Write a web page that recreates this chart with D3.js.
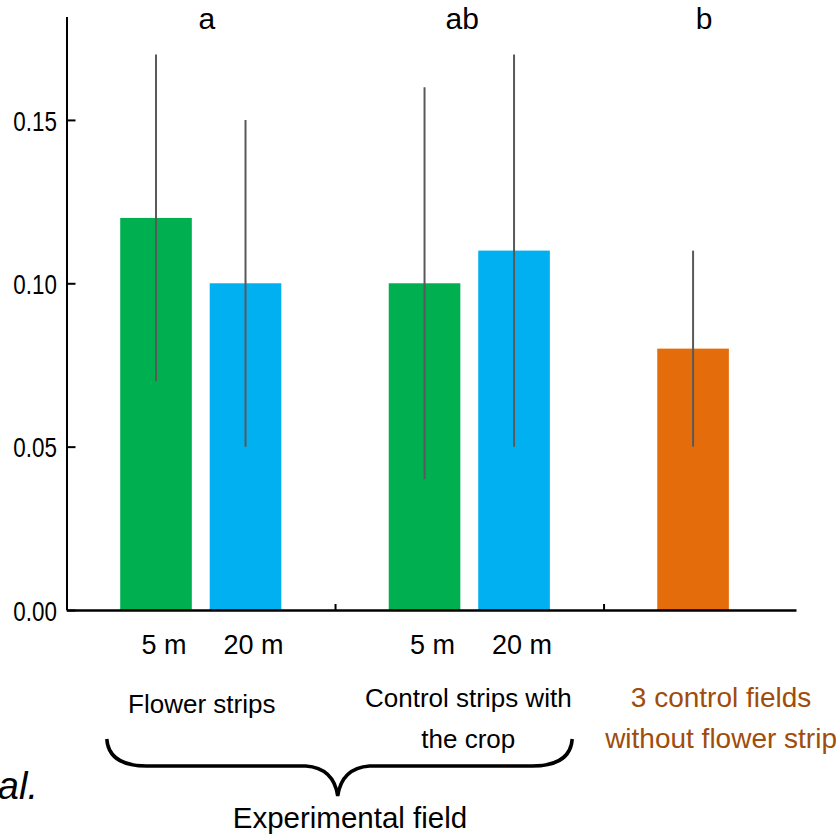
<!DOCTYPE html>
<html>
<head>
<meta charset="utf-8">
<script src="https://cdn.jsdelivr.net/npm/d3@7"></script>
<style>
  body { margin: 0; background: #fff; }
  text { font-family: "Liberation Sans", Arial, sans-serif; }
</style>
</head>
<body>
<svg id="viz" width="836" height="837"></svg>
<script>
  // groups along the x axis
  let groupNames = [["Flower strips"], ["Control strips with", "the crop"], ["3 control fields", "without flower strip"]];
  let groupLetters = ["a", "ab", "b"];

  // one entry per bar
  let barGroup = [0, 0, 1, 1, 2];
  let barSub = [0, 1, 0, 1, 0];
  let barLabels = ["5 m", "20 m", "5 m", "20 m", ""];
  let means = [0.12, 0.10, 0.10, 0.11, 0.08];
  let upper = [0.17, 0.15, 0.16, 0.17, 0.11];
  let lower = [0.07, 0.05, 0.04, 0.05, 0.05];

  let yTicks = [0, 0.05, 0.10, 0.15];

  let barColors = ["#00b050", "#00b0f0", "#00b050", "#00b0f0", "#e46c0a"];

  let svg = d3.select("#viz");

  // slot units: group g starts at slot 3*g
  let xScale = d3.scaleLinear().domain([-1, 7.15]).range([66.5, 796]);
  let yScale = d3.scaleLinear().domain([0, 0.1815]).range([610, 17]);
  let slot = i => barGroup[i] * 3 + barSub[i];
  let barW = xScale(0.8) - xScale(0);

  let bars = means.map((m, i) => ({ m, i }));

  // bars
  svg.selectAll("rect.bar")
    .data(bars)
    .enter()
    .append("rect")
    .attr("class", "bar")
    .attr("x", d => xScale(slot(d.i)) - barW / 2)
    .attr("width", barW)
    .attr("y", d => yScale(d.m))
    .attr("height", d => yScale(0) - yScale(d.m))
    .attr("fill", d => barColors[d.i]);

  // error bars
  svg.selectAll("line.err")
    .data(bars)
    .enter()
    .append("line")
    .attr("x1", d => xScale(slot(d.i)))
    .attr("x2", d => xScale(slot(d.i)))
    .attr("y1", d => yScale(upper[d.i]))
    .attr("y2", d => yScale(lower[d.i]))
    .attr("stroke", "#595959")
    .attr("stroke-width", 2);

  // y axis, ticks pointing inward, narrow labels
  let yAxis = svg.append("g")
    .attr("transform", `translate(${xScale.range()[0]},0)`)
    .call(d3.axisRight(yScale).tickValues(yTicks).tickFormat(d3.format(".2f")).tickSize(9));
  yAxis.select(".domain").attr("d", `M0.5,${yScale.range()[1]}V${yScale(0)}`).attr("stroke-width", 2);
  yAxis.selectAll(".tick line").attr("stroke-width", 2);
  yAxis.selectAll(".tick text")
    .attr("text-anchor", "end")
    .attr("x", -12)
    .attr("dy", "0.36em")
    .attr("transform", "scale(0.8,1)")
    .attr("font-size", 28)
    .attr("fill", "#000");

  // x axis with group separators
  let xAxis = svg.append("g")
    .attr("transform", `translate(0,${yScale(0)})`)
    .call(d3.axisTop(xScale).tickValues([2, 5]).tickFormat("").tickSize(6).tickSizeOuter(0));
  xAxis.select(".domain").attr("stroke-width", 2.5);
  xAxis.selectAll(".tick line").attr("stroke-width", 2);

  // bar labels
  svg.selectAll("text.barlab")
    .data(bars.filter(d => barLabels[d.i]))
    .enter()
    .append("text")
    .attr("x", d => xScale(slot(d.i)) + 8)
    .attr("y", 654)
    .attr("text-anchor", "middle")
    .attr("font-size", 27)
    .text(d => barLabels[d.i]);

  // significance letters
  let letterShift = [6, -7, 11];
  let groupCenter = g => xScale(g * 3 + (g < 2 ? 0.5 : 0));
  svg.selectAll("text.letter")
    .data(groupLetters)
    .enter()
    .append("text")
    .attr("x", (d, g) => groupCenter(g) + letterShift[g])
    .attr("y", 29)
    .attr("text-anchor", "middle")
    .attr("font-size", 30)
    .text(d => d);

  // group names
  let nameShift = [1, -1, 28];
  groupNames.forEach((lines, g) => {
    let t = svg.append("text")
      .attr("text-anchor", "middle")
      .attr("font-size", g === 2 ? 28 : 26)
      .attr("fill", g === 2 ? "#a04c0c" : "#000");
    lines.forEach((s, k) => {
      t.append("tspan")
        .attr("x", groupCenter(g) + nameShift[g])
        .attr("y", (lines.length === 1 ? 713 : 707) + k * 41)
        .text(s);
    });
  });

  // brace under the experimental field
  let bl = xScale(-0.55), br = xScale(4.65), bm = xScale(2.03);
  let by0 = 739, by1 = 766, by2 = 796;
  let brace = d3.path();
  brace.moveTo(bl, by0);
  brace.quadraticCurveTo(bl + 2, by1, bl + 40, by1);
  brace.lineTo(bm - 32, by1);
  brace.quadraticCurveTo(bm - 4, by1 + 2, bm, by2);
  brace.quadraticCurveTo(bm + 4, by1 + 2, bm + 32, by1);
  brace.lineTo(br - 40, by1);
  brace.quadraticCurveTo(br - 2, by1, br, by0);
  svg.append("path")
    .attr("d", brace.toString())
    .attr("fill", "none")
    .attr("stroke", "#000")
    .attr("stroke-width", 3.5);

  svg.append("text")
    .attr("x", 350)
    .attr("y", 828)
    .attr("text-anchor", "middle")
    .attr("font-size", 29.5)
    .text("Experimental field");

  // fragment of a caption cut at the left edge
  svg.append("text")
    .attr("x", 38)
    .attr("y", 799)
    .attr("text-anchor", "end")
    .attr("font-style", "italic")
    .attr("font-size", 38)
    .text("al.");
</script>
</body>
</html>
